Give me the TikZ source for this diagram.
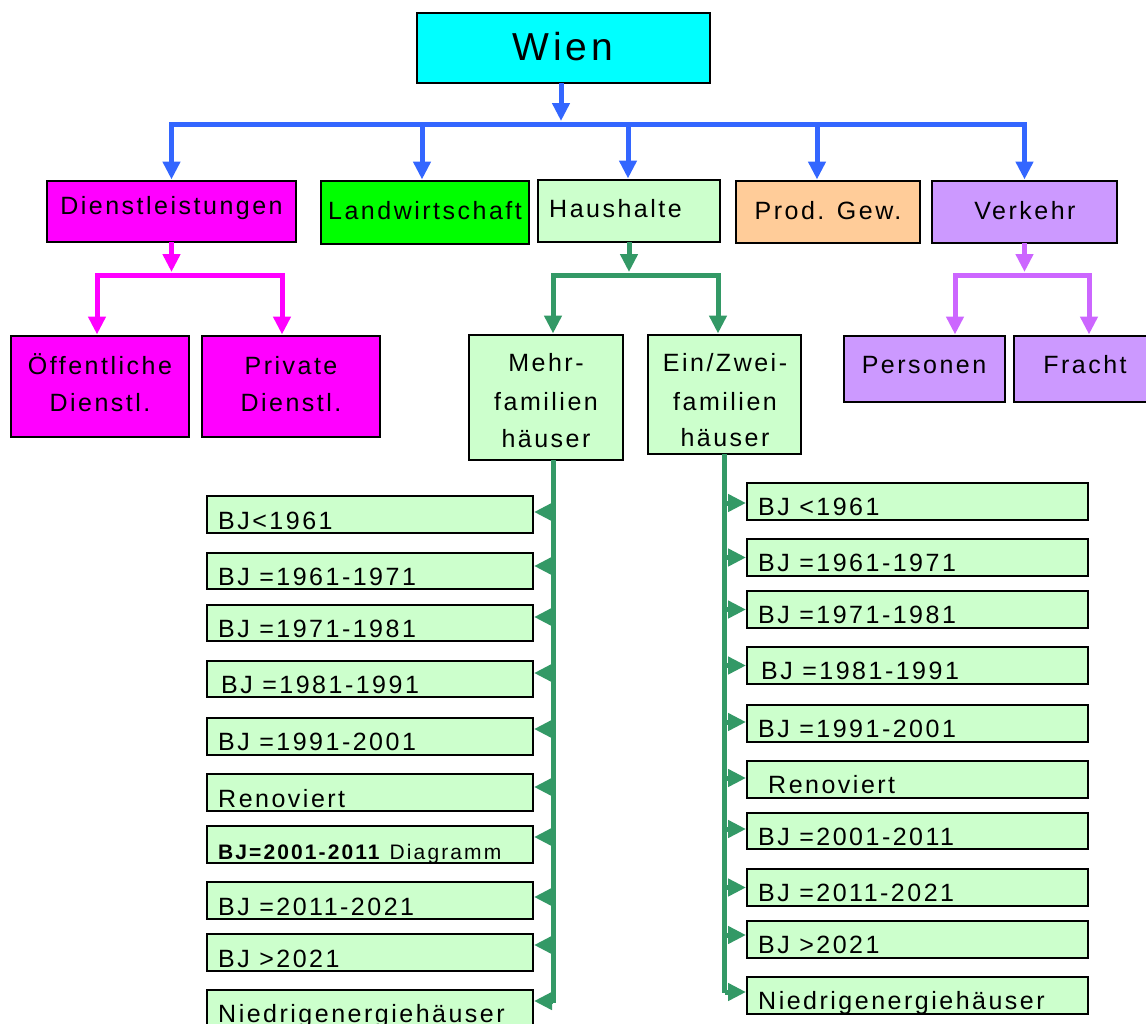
\documentclass[tikz,border=0pt]{standalone}
\usepackage{fontspec}
\setmainfont{Liberation Sans}[LetterSpace=10]
\usetikzlibrary{arrows.meta,calc}
\definecolor{cWien}{HTML}{00FFFF}
\definecolor{cMag}{HTML}{FF00FF}
\definecolor{cGrn}{HTML}{00FF00}
\definecolor{cLgr}{HTML}{CCFFCC}
\definecolor{cOra}{HTML}{FFCC99}
\definecolor{cPur}{HTML}{CC99FF}
\definecolor{lBlue}{HTML}{3366FF}
\definecolor{lGreen}{HTML}{339966}
\definecolor{lPur}{HTML}{CC66FF}
\newcommand\bx[6]{\node[box,fill=#2,minimum width={#5pt-#3pt},minimum height={#6pt-#4pt}] (#1) at ({(#3+#5)/2},{(#4+#6)/2}) {};}
\begin{document}
\begin{tikzpicture}[x=1pt,y=-1pt,
  box/.style={draw=black,line width=1.8pt,rectangle,inner sep=0pt,outer sep=0pt},
  lbl/.style={anchor=base,inner sep=0pt,font=\fontsize{25}{30}\selectfont},
  lblw/.style={anchor=base west,inner sep=0pt,font=\fontsize{25}{30}\selectfont},
  tipb/.style={-{Triangle[length=18pt,width=17pt]}},
  conn/.style={line width=5pt,line join=miter},
  arrB/.style={conn,lBlue,tipb,shorten >=1.5pt},
  arrM/.style={conn,cMag,tipb,shorten >=1.5pt},
  arrG/.style={conn,lGreen,tipb,shorten >=1pt},
  arrP/.style={conn,lPur,tipb,shorten >=1.5pt},
  dbl/.style={{Triangle[length=18pt,width=17pt]}-{Triangle[length=18pt,width=17pt]},shorten >=1.5pt,shorten <=1.5pt}
]
\useasboundingbox (0,0) rectangle (1146,1023);
\clip (0,0) rectangle (1146,1023);
\fill[white] (0,0) rectangle (1146,1023);

% ---------- boxes ----------
\bx{wien}{cWien}{417}{13}{710}{83}
\bx{dienst}{cMag}{47}{181}{296}{242}
\bx{landw}{cGrn}{321}{181}{529}{244}
\bx{haus}{cLgr}{538}{180}{720}{242}
\bx{prod}{cOra}{736}{181}{920}{243}
\bx{verk}{cPur}{932}{181}{1117}{243}
\bx{oeff}{cMag}{11}{336}{189}{437}
\bx{priv}{cMag}{202}{336}{380}{437}
\bx{mehr}{cLgr}{469}{335}{623}{460}
\bx{einz}{cLgr}{648}{335}{801}{454}
\bx{pers}{cPur}{844}{336}{1005}{402}
\bx{fracht}{cPur}{1014}{336}{1152}{402}

\bx{L1}{cLgr}{207}{496}{533}{533}
\bx{L2}{cLgr}{207}{553}{533}{589}
\bx{L3}{cLgr}{207}{605}{533}{641}
\bx{L4}{cLgr}{207}{661}{533}{697}
\bx{L5}{cLgr}{207}{718}{533}{755}
\bx{L6}{cLgr}{207}{774}{533}{811}
\bx{L7}{cLgr}{207}{826}{533}{863}
\bx{L8}{cLgr}{207}{882}{533}{919}
\bx{L9}{cLgr}{207}{934}{533}{971}
\bx{L10}{cLgr}{207}{990}{533}{1027}

\bx{R1}{cLgr}{747}{483}{1088}{520}
\bx{R2}{cLgr}{747}{539}{1088}{576}
\bx{R3}{cLgr}{747}{591}{1088}{628}
\bx{R4}{cLgr}{747}{647}{1088}{684}
\bx{R5}{cLgr}{747}{705}{1088}{742}
\bx{R6}{cLgr}{747}{761}{1088}{798}
\bx{R7}{cLgr}{747}{813}{1088}{849}
\bx{R8}{cLgr}{747}{869}{1088}{906}
\bx{R9}{cLgr}{747}{921}{1088}{958}
\bx{R10}{cLgr}{747}{977}{1088}{1014}

% ---------- texts ----------
\node[anchor=base,inner sep=0pt,font=\fontsize{39}{46}\selectfont] (tWien) at (563,60) {Wien};
\node[lbl] (tDienst) at (171.5,214) {Dienstleistungen};
\node[lbl] (tLandw) at (425,219) {Landwirtschaft};
\node[lblw] (tHaus) at (549,217) {Haushalte};
\node[lbl] (tProd) at (828,219) {Prod. Gew.};
\node[lbl] (tVerk) at (1025,219) {Verkehr};
\node[lbl] (tOeffA) at (100,374) {Öffentliche};
\node[lbl] (tOeffB) at (100,411) {Dienstl.};
\node[lbl] (tPrivA) at (291,374) {Private};
\node[lbl] (tPrivB) at (291,411) {Dienstl.};
\node[lbl] (tMehrA) at (546,371) {Mehr-};
\node[lbl] (tMehrB) at (546,410) {familien};
\node[lbl] (tMehrC) at (546,447) {häuser};
\node[lbl] (tEinA) at (725,371) {Ein/Zwei-};
\node[lbl] (tEinB) at (725,410) {familien};
\node[lbl] (tEinC) at (725,446) {häuser};
\node[lbl] (tPers) at (924,373) {Personen};
\node[lbl] (tFracht) at (1085,373) {Fracht};

\node[lblw] (tL1) at (218,529) {BJ<1961};
\node[lblw] (tL2) at (218,585) {BJ =1961-1971};
\node[lblw] (tL3) at (218,637) {BJ =1971-1981};
\node[lblw] (tL4) at (221,693) {BJ =1981-1991};
\node[lblw] (tL5) at (218,750) {BJ =1991-2001};
\node[lblw] (tL6) at (218,807) {Renoviert};
\node[anchor=base west,inner sep=0pt,font=\fontsize{21}{25}\selectfont] (tL7) at (218,859) {\textbf{BJ=2001-2011} Diagramm};
\node[lblw] (tL8) at (218,915) {BJ =2011-2021};
\node[lblw] (tL9) at (218,967) {BJ >2021};
\node[lblw] (tL10) at (218,1022) {Niedrigenergiehäuser};

\node[lblw] (tR1) at (758,515) {BJ <1961};
\node[lblw] (tR2) at (758,571) {BJ =1961-1971};
\node[lblw] (tR3) at (758,623) {BJ =1971-1981};
\node[lblw] (tR4) at (761,679) {BJ =1981-1991};
\node[lblw] (tR5) at (758,737) {BJ =1991-2001};
\node[lblw] (tR6) at (768,793) {Renoviert};
\node[lblw] (tR7) at (758,845) {BJ =2001-2011};
\node[lblw] (tR8) at (758,901) {BJ =2011-2021};
\node[lblw] (tR9) at (758,953) {BJ >2021};
\node[lblw] (tR10) at (758,1009) {Niedrigenergiehäuser};

% ---------- blue connectors ----------
\coordinate (bbus) at (561,124);
\draw[arrB,shorten >=3pt] (wien.south -| bbus) -- (bbus);
\draw[conn,lBlue,dbl] (dienst.north) -- (dienst.north |- bbus) -- (verk.north |- bbus) -- (verk.north);
\draw[arrB] ($(landw.north |- bbus)+(-3,0)$) -- ($(landw.north)+(-3,0)$);
\draw[arrB] ($(haus.north |- bbus)+(-1,0)$) -- ($(haus.north)+(-1,0)$);
\draw[arrB] ($(prod.north |- bbus)+(-11,0)$) -- ($(prod.north)+(-11,0)$);

% ---------- magenta connectors ----------
\coordinate (mbus) at (0,275);
\draw[arrM,shorten >=3pt] (dienst.south) -- (dienst.south |- mbus);
\draw[conn,cMag,dbl] ($(oeff.north)+(-3,0)$) -- ($(oeff.north |- mbus)+(-3,0)$) -- ($(priv.north |- mbus)+(-9,0)$) -- ($(priv.north)+(-9,0)$);

% ---------- green connectors ----------
\draw[arrG,lGreen,shorten >=3pt] (haus.south) -- (haus.south |- mbus);
\draw[conn,lGreen,dbl] ($(mehr.north)+(7,0)$) -- ($(mehr.north |- mbus)+(7,0)$) -- ($(einz.north |- mbus)+(-6.5,0)$) -- ($(einz.north)+(-6.5,0)$);

% ---------- purple connectors ----------
\draw[arrP,shorten >=3pt] (verk.south) -- (verk.south |- mbus);
\draw[conn,lPur,dbl] ($(pers.north)+(30.5,0)$) -- ($(pers.north |- mbus)+(30.5,0)$) -- ($(fracht.north |- mbus)+(6,0)$) -- ($(fracht.north)+(6,0)$);

% ---------- left trunk ----------
\coordinate (lt) at ($(mehr.south)+(7,0)$);
\draw[conn,lGreen] (lt) -- (lt |- 0,1003);
\draw[arrG] (lt |- 0,512) -- (L1.east |- 0,512);
\draw[arrG] (lt |- 0,566) -- (L2.east |- 0,566);
\draw[arrG] (lt |- 0,617) -- (L3.east |- 0,617);
\draw[arrG] (lt |- 0,673) -- (L4.east |- 0,673);
\draw[arrG] (lt |- 0,729) -- (L5.east |- 0,729);
\draw[arrG] (lt |- 0,787) -- (L6.east |- 0,787);
\draw[arrG] (lt |- 0,837) -- (L7.east |- 0,837);
\draw[arrG] (lt |- 0,897) -- (L8.east |- 0,897);
\draw[arrG] (lt |- 0,945) -- (L9.east |- 0,945);
\draw[arrG] (lt |- 0,1001) -- (L10.east |- 0,1001);

% ---------- right trunk ----------
\coordinate (rt) at (einz.south);
\draw[conn,lGreen] (rt) -- (rt |- 0,993);
\draw[arrG] (rt |- 0,503) -- (R1.west |- 0,503);
\draw[arrG] (rt |- R2.west) -- (R2.west);
\draw[arrG] (rt |- R3.west) -- (R3.west);
\draw[arrG] (rt |- R4.west) -- (R4.west);
\draw[arrG] (rt |- 0,722) -- (R5.west |- 0,722);
\draw[arrG] (rt |- 0,778) -- (R6.west |- 0,778);
\draw[arrG] (rt |- 0,829) -- (R7.west |- 0,829);
\draw[arrG] (rt |- R8.west) -- (R8.west);
\draw[arrG] (rt |- 0,935) -- (R9.west |- 0,935);
\draw[arrG] (rt |- 0,992) -- (R10.west |- 0,992);
\end{tikzpicture}
\end{document}
